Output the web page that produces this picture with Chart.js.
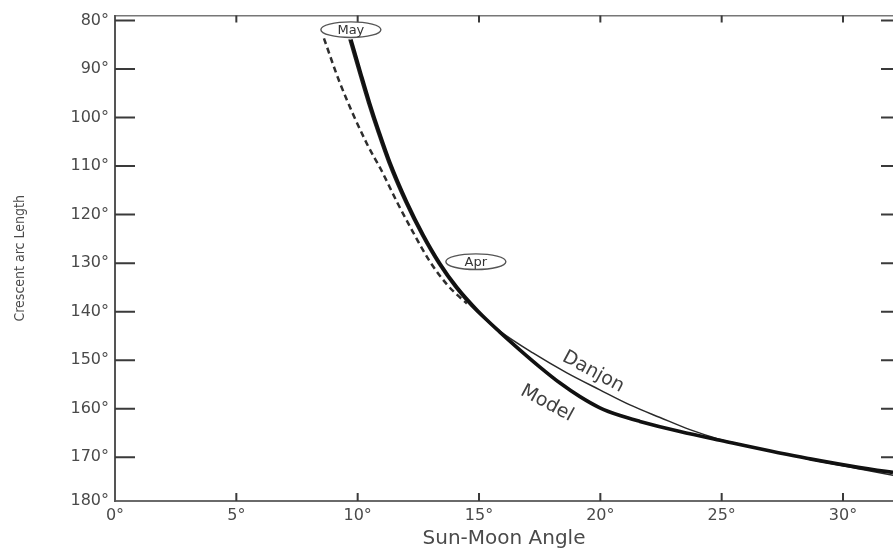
<!DOCTYPE html>
<html>
<head>
<meta charset="utf-8">
<script src="https://cdn.jsdelivr.net/npm/chart.js@4/dist/chart.umd.min.js"></script>
<style>
  html, body { margin: 0; padding: 0; background: #fff; overflow: hidden; }
  #wrap { width: 893px; height: 551px; position: relative; }
</style>
</head>
<body>
<div id="wrap"><canvas id="chart"></canvas></div>
<script>
// ---------- data ----------
const xTickValues = [0, 5, 10, 15, 20, 25, 30];
const xTickLabels = ['0°', '5°', '10°', '15°', '20°', '25°', '30°'];
const yTickValues = [80, 90, 100, 110, 120, 130, 140, 150, 160, 170, 180];
const yTickLabels = ['80°', '90°', '100°', '110°', '120°', '130°', '140°', '150°', '160°', '170°', '180°'];

// Model curve (thick solid)
const modelX = [9.72, 10.12, 10.49, 10.89, 11.33, 12.02, 12.70, 13.39, 14.09, 14.96, 15.86, 16.69, 17.51, 18.34, 19.16, 19.98, 20.81, 21.63, 23.28, 24.93, 28.51, 32.06, 32.34];
const modelY = [83.9, 90.8, 97.0, 103.1, 109.3, 117.4, 124.2, 130.1, 135.0, 139.9, 144.2, 147.9, 151.4, 154.7, 157.5, 159.8, 161.4, 162.6, 164.7, 166.5, 170.2, 173.1, 173.2];

// Danjon curve (thin solid)
const danjonX = [9.64, 10.04, 10.41, 10.81, 11.25, 11.94, 12.62, 13.31, 14.01, 14.88, 15.86, 17.22, 18.62, 19.98, 21.22, 22.46, 23.69, 24.93, 26.58, 28.51, 30.28, 32.06, 32.34];
const danjonY = [83.9, 90.8, 97.0, 103.1, 109.3, 117.4, 124.2, 130.1, 135.0, 139.9, 144.0, 148.5, 152.6, 156.1, 159.2, 161.8, 164.3, 166.3, 168.2, 170.3, 172.0, 173.7, 173.9];

// Dashed curve
const dashedX = [8.61, 9.27, 10.38, 10.96, 11.62, 12.28, 12.98, 13.68, 14.09, 14.50];
const dashedY = [83.7, 92.9, 105.4, 110.7, 117.4, 123.6, 129.7, 134.4, 136.5, 138.3];

// Oval month markers
const noteLabels = ['May', 'Apr'];
const noteX = [9.72, 14.87];
const noteY = [81.9, 129.7];

// Curve name labels
const curveNames = ['Danjon', 'Model'];
const curveNameX = [19.70, 17.80];
const curveNameY = [152.4, 158.9];

const X_MIN = 0, X_MAX = 32.06;
const Y_MIN = 79, Y_MAX = 179;

const zip = (xs, ys) => xs.map((v, i) => ({ x: v, y: ys[i] }));

// ---------- plugins ----------
const frameTicks = {
  id: 'frameTicks',
  afterDatasetsDraw(chart) {
    const { ctx, chartArea: a, scales: { x, y } } = chart;
    ctx.save();
    ctx.strokeStyle = '#3a3a3a';
    ctx.lineWidth = 2;
    ctx.beginPath();
    yTickValues.forEach(v => {
      if (v >= Y_MAX) return;
      const p = y.getPixelForValue(v);
      ctx.moveTo(a.left, p); ctx.lineTo(a.left + 20, p);
      ctx.moveTo(a.right - 12, p); ctx.lineTo(a.right, p);
    });
    xTickValues.forEach(v => {
      if (v <= X_MIN) return;
      const p = x.getPixelForValue(v);
      ctx.moveTo(p, a.bottom); ctx.lineTo(p, a.bottom - 8);
      ctx.moveTo(p, a.top); ctx.lineTo(p, a.top + 7);
    });
    ctx.stroke();
    ctx.restore();
  }
};

const notes = {
  id: 'notes',
  afterDatasetsDraw(chart) {
    const { ctx, scales: { x, y } } = chart;
    ctx.save();
    noteLabels.forEach((t, i) => {
      const px = x.getPixelForValue(noteX[i]);
      const py = y.getPixelForValue(noteY[i]);
      ctx.beginPath();
      ctx.ellipse(px, py, 30, 7.8, 0, 0, Math.PI * 2);
      ctx.fillStyle = '#fff';
      ctx.fill();
      ctx.strokeStyle = '#555';
      ctx.lineWidth = 1.4;
      ctx.stroke();
      ctx.fillStyle = '#333';
      ctx.font = '13px "DejaVu Sans"';
      ctx.textAlign = 'center';
      ctx.textBaseline = 'middle';
      ctx.fillText(t, px, py + 0.5);
    });
    curveNames.forEach((t, i) => {
      const px = x.getPixelForValue(curveNameX[i]);
      const py = y.getPixelForValue(curveNameY[i]);
      ctx.save();
      ctx.translate(px, py);
      ctx.rotate(28.5 * Math.PI / 180);
      ctx.fillStyle = '#404040';
      ctx.font = '19px "DejaVu Sans"';
      ctx.textAlign = 'center';
      ctx.textBaseline = 'middle';
      ctx.fillText(t, 0, 0);
      ctx.restore();
    });
    ctx.restore();
  }
};

// ---------- chart ----------
const tickFont = { family: 'DejaVu Sans', size: 16 };

new Chart(document.getElementById('chart'), {
  type: 'line',
  data: {
    datasets: [
      {
        label: 'Model',
        data: zip(modelX, modelY),
        borderColor: '#111',
        borderWidth: 3.6,
        pointRadius: 0,
        fill: false,
        cubicInterpolationMode: 'monotone'
      },
      {
        label: 'Danjon',
        data: zip(danjonX, danjonY),
        borderColor: '#2a2a2a',
        borderWidth: 1.5,
        pointRadius: 0,
        fill: false,
        cubicInterpolationMode: 'monotone'
      },
      {
        label: 'Dashed',
        data: zip(dashedX, dashedY),
        borderColor: '#2e2e2e',
        borderWidth: 2.5,
        borderDash: [6, 4],
        pointRadius: 0,
        fill: false,
        cubicInterpolationMode: 'monotone'
      }
    ]
  },
  options: {
    responsive: true,
    maintainAspectRatio: false,
    devicePixelRatio: 1,
    animation: false,
    layout: { padding: { top: 12, right: 0, bottom: 0, left: 0 } },
    plugins: {
      legend: { display: false },
      tooltip: { enabled: false }
    },
    scales: {
      x: {
        type: 'linear',
        position: 'bottom',
        min: X_MIN,
        max: X_MAX,
        afterBuildTicks: s => { s.ticks = xTickValues.map(v => ({ value: v })); },
        afterFit: s => { s.height = 50; },
        grid: { display: false, drawTicks: false },
        border: { display: true, color: '#6a6a6a', width: 2 },
        ticks: {
          padding: 5,
          color: '#4a4a4a',
          font: tickFont,
          maxRotation: 0,
          callback: (v, i) => xTickLabels[i]
        },
        title: {
          display: true,
          text: 'Sun-Moon Angle',
          color: '#4a4a4a',
          font: { family: 'DejaVu Sans', size: 20 },
          padding: { top: 0, bottom: 0 }
        }
      },
      xTop: {
        type: 'linear',
        position: 'top',
        display: true,
        min: X_MIN,
        max: X_MAX,
        grid: { display: false, drawTicks: false },
        ticks: { display: false },
        border: { display: true, color: '#777', width: 1.5 }
      },
      y: {
        type: 'linear',
        position: 'left',
        reverse: true,
        min: Y_MIN,
        max: Y_MAX,
        afterBuildTicks: s => { s.ticks = yTickValues.map(v => ({ value: Math.min(v, s.max) })); },
        afterFit: s => { s.width = 115; },
        grid: { display: false, drawTicks: false },
        border: { display: true, color: '#555', width: 2 },
        ticks: {
          padding: 6,
          color: '#4a4a4a',
          font: tickFont,
          callback: (v, i) => yTickLabels[i]
        },
        title: {
          display: true,
          text: 'Crescent arc Length',
          color: '#4a4a4a',
          font: { family: 'DejaVu Sans Condensed', size: 14 },
          padding: { top: 12, bottom: 0 }
        }
      }
    }
  },
  plugins: [frameTicks, notes]
});
</script>
</body>
</html>
